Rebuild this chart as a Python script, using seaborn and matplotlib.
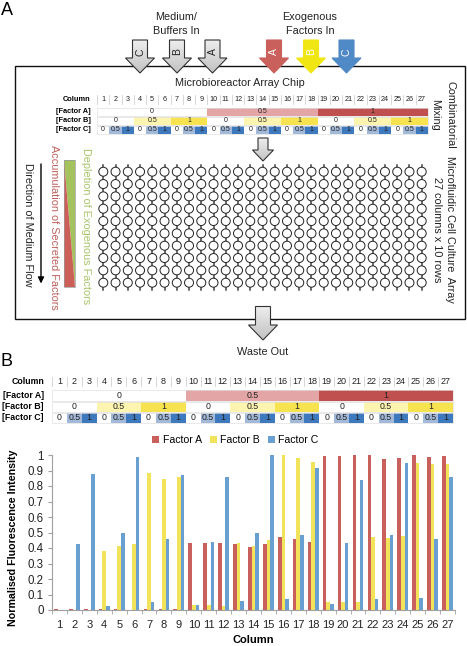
import numpy as np
import pandas as pd
import seaborn as sns
import matplotlib.pyplot as plt
from matplotlib.patches import Polygon, Rectangle, Circle

"""
Data
"""

columns = [str(i) for i in range(1, 28)]
factor_a = [.005, .005, .005, .005, .005, 0, .005, .005, .005, .435, .43, .435, .425, .405,
            .427, .473, .458, .438, .995, .995, 1.0, 1.0, .975, .98, 1.0, .985, .995]
factor_b = [0, 0, 0, .38, .41, .425, .885, .845, .86, .035, .035, .025, .435, .415,
            .45, 1.0, .98, .955, .05, .05, .05, .47, .465, .475, .95, .94, .945]
factor_c = [0, .425, .875, .025, .495, .985, .05, .455, .87, .035, .44, .86, .055, .495,
            1.0, .07, .485, .915, .04, .43, .84, .07, .485, .95, .075, .455, .86]
y_ticks = [0, .1, .2, .3, .4, .5, .6, .7, .8, .9, 1]
y_tick_labels = ['0', '0.1', '0.2', '0.3', '0.4', '0.5', '0.6', '0.7', '0.8', '0.9', '1']

levels = ['0', '0.5', '1']
levels_a = [l for l in levels for _ in range(9)]
levels_b = [l for l in levels for _ in range(3)] * 3
levels_c = levels * 9

bar_colors = {'Factor A': '#c9605c', 'Factor B': '#f2e35a', 'Factor C': '#6a9fd2'}
cell_a = {'0': 'white', '0.5': '#e3a5a5', '1': '#c0504f'}
cell_b = {'0': 'white', '0.5': '#fdf4b0', '1': '#f7e34f'}
cell_c = {'0': 'white', '0.5': '#a3b9d9', '1': '#3e79bd'}

plt.rcParams['font.family'] = ['Liberation Sans', 'DejaVu Sans']

W, H = 467, 646
TXT = 7.8
fig = plt.figure(figsize=(W / 100, H / 100), dpi=100, facecolor='white')

"""
Bar chart
"""

ax = fig.add_axes([52 / W, (H - 610) / H, 403 / W, 155 / H])
df = pd.DataFrame({'Column': columns * 3,
                   'Intensity': factor_a + factor_b + factor_c,
                   'Factor': ['Factor A'] * 27 + ['Factor B'] * 27 + ['Factor C'] * 27})
sns.barplot(data=df, x='Column', y='Intensity', hue='Factor', palette=bar_colors,
            width=0.72, gap=0, saturation=1, errorbar=None, ax=ax)
ax.set_xlim(-0.5, 26.5)
ax.set_ylim(0, 1)
ax.set_yticks(y_ticks, y_tick_labels)
sns.despine(ax=ax)
for s in ['left', 'bottom']:
    ax.spines[s].set_color('#a0a0a0')
ax.set_xticks(np.arange(-0.5, 27), minor=True)
ax.tick_params(axis='x', which='major', length=0, labelsize=8, pad=7, labelcolor='#222222')
ax.tick_params(axis='x', which='minor', length=3, color='#a0a0a0')
ax.tick_params(axis='y', length=3, color='#a0a0a0', labelsize=8.3, pad=3, labelcolor='#222222')
ax.set_xlabel('Column', fontsize=8, fontweight='bold', labelpad=4)
ax.set_ylabel('Normalised Fluorescence Intensity', fontsize=7.7, fontweight='bold')
ax.yaxis.set_label_coords(-0.085, 0.465)
ax.legend(loc='lower center', bbox_to_anchor=(0.455, 1.065), ncol=3, frameon=False, fontsize=7.6,
          handlelength=0.7, handleheight=0.7, handletextpad=0.3, columnspacing=0.75,
          borderpad=0, borderaxespad=0)

"""
Schematic, drawn on a pixel overlay
"""

ov = fig.add_axes([0, 0, 1, 1], facecolor='none')
ov.set_xlim(0, W)
ov.set_ylim(H, 0)
ov.axis('off')


def block_arrow(cx, top, neck, tip, half_shaft, half_head, color, edge):
    pts = [(cx - half_shaft, top), (cx + half_shaft, top), (cx + half_shaft, neck),
           (cx + half_head, neck), (cx, tip), (cx - half_head, neck), (cx - half_shaft, neck)]
    poly = Polygon(pts, closed=True, facecolor=color, edgecolor=edge, lw=0.8, zorder=5)
    ov.add_patch(poly)
    if color == 'gray':
        # light to darker fill like the grey arrows on the chip
        poly.set_facecolor('none')
        grad = ov.imshow(np.linspace(0.93, 0.76, 50)[:, None], cmap='gray', vmin=0, vmax=1, aspect='auto',
                         extent=(cx - half_head, cx + half_head, tip, top), zorder=4.5)
        grad.set_clip_path(poly)
        ov.set_xlim(0, W)
        ov.set_ylim(H, 0)


def table(x0, x1, y_head, rows, label_x, size, row_h, label_size, z):
    step = (x1 - x0) / 27
    ov.text(label_x, y_head, 'Column', ha='right', va='center', fontsize=label_size, fontweight='bold', zorder=z + 1)
    for i, c in enumerate(columns):
        ov.text(x0 + (i + .5) * step, y_head, c, ha='center', va='center', fontsize=size, color='#222222', zorder=z + 1)
        ov.plot([x0 + i * step] * 2, [y_head - 4.5, y_head + 4.5], color='#d0d0d0', lw=0.6, zorder=z)
    for name, vals, cmap, y in rows:
        ov.text(label_x, y + row_h / 2, name, ha='right', va='center', fontsize=label_size, fontweight='bold', zorder=z + 1)
        i = 0
        while i < 27:
            j = i
            while j < 27 and vals[j] == vals[i]:
                j += 1
            ov.add_patch(Rectangle((x0 + i * step, y), (j - i) * step, row_h, facecolor=cmap[vals[i]],
                                   edgecolor='none', zorder=z))
            ov.text(x0 + (i + j) / 2 * step, y + row_h / 2, vals[i], ha='center', va='center',
                    fontsize=size - 0.2, color='#222222', zorder=z + 1)
            i = j
        ov.add_patch(Rectangle((x0, y), x1 - x0, row_h, facecolor='none', edgecolor='#e0e0e0', lw=0.5, zorder=z))


# chip frame
ov.add_patch(Rectangle((14.5, 65.7), 450, 253.6, facecolor='white', edgecolor='#111111', lw=1, zorder=1))

ov.text(1, 10.5, 'A', fontsize=13, ha='left', va='center')
ov.text(1, 362, 'B', fontsize=13, ha='left', va='center')
ov.text(176, 17.5, 'Medium/', fontsize=TXT, ha='center', va='center', color='#222222')
ov.text(176, 30.5, 'Buffers In', fontsize=TXT, ha='center', va='center', color='#222222')
ov.text(310, 17.5, 'Exogenous', fontsize=TXT, ha='center', va='center', color='#222222')
ov.text(310, 30.5, 'Factors In', fontsize=TXT, ha='center', va='center', color='#222222')
ov.text(239.5, 82.5, 'Microbioreactor Array Chip', fontsize=TXT, ha='center', va='center', color='#222222', zorder=3)
ov.text(263, 352, 'Waste Out', fontsize=TXT, ha='center', va='center', color='#222222')

in_arrows = [(140, 'C', 'gray', '#333333', '#222222'), (177, 'B', 'gray', '#333333', '#222222'),
             (212.5, 'A', 'gray', '#333333', '#222222'), (274, 'A', '#c9605c', '#c9605c', 'white'),
             (311, 'B', '#f0e614', '#f0e614', 'white'), (346.5, 'C', '#4f8ac6', '#4f8ac6', 'white')]
for cx, letter, col, edge, txt in in_arrows:
    block_arrow(cx, 40, 58, 73, 7.5, 14.5, col, edge)
    ov.text(cx, 52, letter, rotation=90, fontsize=7.5, ha='center', va='center', color=txt, zorder=6)

block_arrow(263, 138, 150, 161, 5, 10.5, 'gray', '#333333')
block_arrow(263, 306.5, 325, 340, 7.5, 14.5, 'gray', '#333333')

# side texts
side_texts = [(450, 114.5, 'Combinatorial', '#222222'), (435, 114.5, 'Mixing', '#222222'),
              (450, 229.5, 'Microfluidic Cell Culture  Array', '#222222'),
              (437, 229.5, '27 columns x 10 rows', '#222222'),
              (27.5, 224.5, 'Direction of Medium Flow', '#222222'),
              (54, 227.5, 'Accumulation of Secreted Factors', '#c0605c'),
              (85.5, 226.5, 'Depletion of Exogenous Factors', '#a8c468')]
for x, y, s, c in side_texts:
    ov.text(x, y, s, rotation=-90, fontsize=TXT, ha='center', va='center', color=c, zorder=3)

ov.annotate('', xy=(41, 283.5), xytext=(41, 164), zorder=3,
            arrowprops=dict(arrowstyle='-|>', color='black', lw=1, mutation_scale=9, shrinkA=0, shrinkB=0))

ov.add_patch(Polygon([(64, 160), (75, 160), (75, 287)], closed=True, facecolor='#a4c25e', edgecolor='none', zorder=3))
ov.add_patch(Polygon([(64, 160), (75, 287), (64, 287)], closed=True, facecolor='#cc5f58', edgecolor='none', zorder=3))
ov.add_patch(Rectangle((64, 160), 11, 127, facecolor='none', edgecolor='#999999', lw=0.5, zorder=3))

# cell culture array
col_x = np.linspace(103.3, 421.7, 27)
row_y = np.linspace(171.7, 282.7, 10)
for x in col_x:
    ov.plot([x, x], [165, 290], color='#444444', lw=1.1, zorder=3)
    for y in row_y:
        ov.add_patch(Circle((x, y), 4.5, facecolor='white', edgecolor='#222222', lw=0.7, zorder=4))

# tables
rows_top = [('[Factor A]', levels_a, cell_a, 107.5),
            ('[Factor B]', levels_b, cell_b, 116.6),
            ('[Factor C]', levels_c, cell_c, 125.7)]
table(97, 428, 99.5, rows_top, 90.5, 5.2, 8.5, 5.3, 2)

rows_bottom = [('[Factor A]', levels_a, cell_a, 390),
               ('[Factor B]', levels_b, cell_b, 401.5),
               ('[Factor C]', levels_c, cell_c, 412.5)]
table(52, 453, 381, rows_bottom, 44, 6.5, 10.5, 6.3, 2)

fig.savefig('out.png', dpi=100)
